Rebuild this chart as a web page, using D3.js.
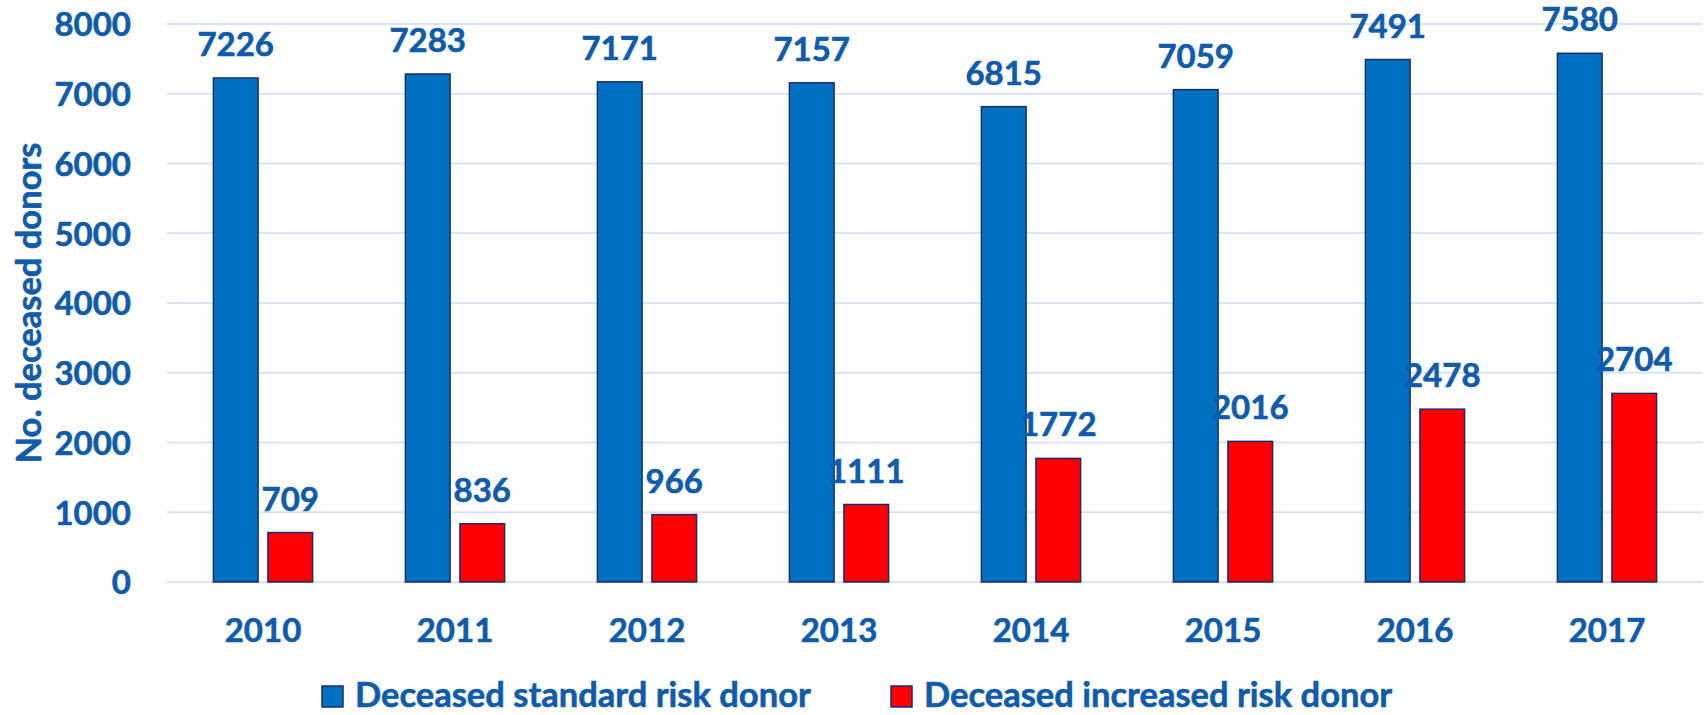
<!DOCTYPE html>
<html>
<head>
<meta charset="utf-8">
<script src="https://cdn.jsdelivr.net/npm/d3@7"></script>
<style>
  html, body { margin: 0; padding: 0; background: #fff; }
  svg text { font-family: Lato, "Open Sans", sans-serif; font-weight: bold; fill: #105BAA; stroke: #105BAA; stroke-width: 0.6px; }
</style>
</head>
<body>
<svg id="chart" width="1706" height="715"></svg>
<script>
const years = ["2010", "2011", "2012", "2013", "2014", "2015", "2016", "2017"];
const standardRisk = [7226, 7283, 7171, 7157, 6815, 7059, 7491, 7580];
const increasedRisk = [709, 836, 966, 1111, 1772, 2016, 2478, 2704];
const seriesNames = ["Deceased standard risk donor", "Deceased increased risk donor"];
const seriesColors = ["#0070C0", "#FF0000"];
const yTicks = [0, 1000, 2000, 3000, 4000, 5000, 6000, 7000, 8000];

(function () {
const svg = d3.select("#chart");
const pLeft = 167, pRight = 1703, pTop = 24, pBottom = 582;
const numSize = 33, textSize = 34.5;

const x = d3.scaleBand().domain(years).range([pLeft, pRight]).padding(0);
const xs = d3.scaleBand().domain([0, 1]).range([46.4, 145.6]).paddingInner(0.18).paddingOuter(0);
const y = d3.scaleLinear().domain([0, 8000]).range([pBottom, pTop]);

// gridlines
svg.append("g").selectAll("line").data(yTicks).join("line")
  .attr("x1", pLeft).attr("x2", pRight)
  .attr("y1", d => y(d)).attr("y2", d => y(d))
  .attr("stroke", "#D9E3F5").attr("stroke-width", 2);

// y axis labels
const yAxis = d3.axisLeft(y).tickValues(yTicks).tickSize(0).tickPadding(0).tickFormat(d3.format("d"));
const gy = svg.append("g").attr("transform", `translate(131,0)`).call(yAxis);
gy.select(".domain").remove();
gy.selectAll("text").attr("font-size", numSize).attr("fill", "#105BAA").attr("font-family", null).attr("dy", "0.36em");

// x axis labels
const xAxis = d3.axisBottom(x).tickSize(0).tickPadding(0);
const gx = svg.append("g").attr("transform", `translate(0,${pBottom})`).call(xAxis);
gx.select(".domain").remove();
gx.selectAll("text").attr("font-size", numSize).attr("fill", "#105BAA").attr("font-family", null).attr("dy", null).attr("y", 60);

// bars
const data = years.map((yr, i) => ({ yr, vals: [standardRisk[i], increasedRisk[i]] }));
const groups = svg.append("g").selectAll("g").data(data).join("g")
  .attr("transform", d => `translate(${x(d.yr)},0)`);
groups.selectAll("rect").data(d => d.vals.map((v, k) => ({ v, k }))).join("rect")
  .attr("x", d => xs(d.k)).attr("width", xs.bandwidth())
  .attr("y", d => y(d.v)).attr("height", d => y(0) - y(d.v))
  .attr("fill", d => seriesColors[d.k])
  .attr("stroke", "#1A2D6B").attr("stroke-width", 1.5);
groups.selectAll("text.lbl").data(d => d.vals.map((v, k) => ({ v, k }))).join("text")
  .attr("class", "lbl")
  .attr("x", d => xs(d.k) + xs.bandwidth() / 2)
  .attr("y", d => y(d.v) - 22)
  .attr("text-anchor", "middle").attr("font-size", numSize)
  .text(d => d.v);

// y title
svg.append("text")
  .attr("transform", "translate(41,303) rotate(-90)")
  .attr("text-anchor", "middle").attr("font-size", textSize)
  .text("No. deceased donors");

// legend
const legendX = [322, 891];
const lg = svg.append("g").selectAll("g").data(seriesNames).join("g")
  .attr("transform", (d, i) => `translate(${legendX[i]},686)`);
lg.append("rect").attr("width", 21).attr("height", 21)
  .attr("fill", (d, i) => seriesColors[i]).attr("stroke", "#1A2D6B").attr("stroke-width", 1.5);
lg.append("text").attr("x", 33).attr("y", 21).attr("font-size", textSize).text(d => d);
})();
</script>
</body>
</html>
